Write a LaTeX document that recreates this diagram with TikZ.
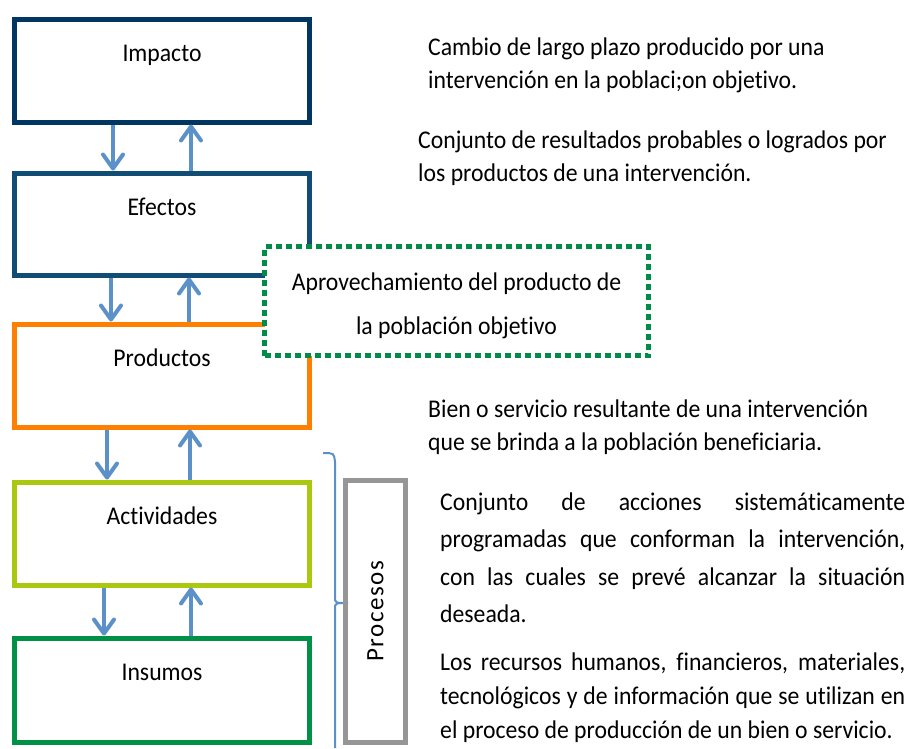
\documentclass[tikz,border=0pt]{standalone}
\usepackage{fontspec}
\setmainfont{Carlito}[FakeStretch=0.93, RawFeature={-liga;-clig}]
\newfontfamily\procfont{Carlito}[LetterSpace=6, RawFeature={-liga;-clig}]
\usetikzlibrary{arrows.meta}

\definecolor{azulImpacto}{RGB}{0,54,96}
\definecolor{azulEfectos}{RGB}{16,76,116}
\definecolor{naranja}{RGB}{255,128,0}
\definecolor{lima}{RGB}{170,200,15}
\definecolor{verde}{RGB}{0,144,70}
\definecolor{verdePunto}{RGB}{0,140,72}
\definecolor{azulFlecha}{RGB}{91,145,200}
\definecolor{grisProc}{RGB}{150,150,150}

\tikzset{
	etapa/.style={draw=#1, line width=5pt, minimum width=295pt, inner sep=0pt,
		anchor=north, text height=42pt, text depth=61pt, font=\fontsize{25.5}{30}\selectfont},
	flecha/.style={azulFlecha, line width=3.5pt,
		-{Straight Barb[length=14pt,width=20pt,line width=4pt,round]}},
	nota/.style={anchor=base west, inner sep=0pt, text width=#1, align=left,
		font=\fontsize{25.5}{33}\selectfont,
		execute at begin node={\spaceskip=\fontdimen2\font\relax}},
	parrafo/.style={anchor=base west, inner sep=0pt, text width=465pt, align=justify},
}

\begin{document}
\begin{tikzpicture}[x=1pt, y=-1pt]
	\useasboundingbox (0,0) rectangle (910,748);

	% cadena de resultados
	\node[etapa=azulImpacto] (impacto) at (162,16.5) {Impacto};
	\node[etapa=azulEfectos, text depth=60pt] (efectos) at (162,170.5) {Efectos};
	\node[etapa=naranja] (productos) at (162,321.5) {Productos};
	\node[etapa=lima] (actividades) at (162,479.5) {Actividades};
	\node[etapa=verde, text depth=62pt] (insumos) at (162,635.5) {Insumos};

	\draw[flecha] ([xshift=-49pt]impacto.south) -- ([xshift=-49pt]efectos.north);
	\draw[flecha] ([xshift=29pt]efectos.north) -- ([xshift=29pt]impacto.south);
	\draw[flecha] ([xshift=-51pt]efectos.south) -- ([xshift=-51pt]productos.north);
	\draw[flecha] ([xshift=27pt]productos.north) -- ([xshift=27pt]efectos.south);
	\draw[flecha] ([xshift=-55pt]productos.south) -- ([xshift=-55pt]actividades.north);
	\draw[flecha] ([xshift=28pt]actividades.north) -- ([xshift=28pt]productos.south);
	\draw[flecha] ([xshift=-58pt]actividades.south) -- ([xshift=-58pt]insumos.north);
	\draw[flecha] ([xshift=29pt]insumos.north) -- ([xshift=29pt]actividades.south);

	\node[draw=verdePunto, fill=white, line width=5pt, dash pattern=on 6pt off 4pt,
		minimum width=384pt, minimum height=109pt, inner sep=0pt, align=center,
		font=\fontsize{25.5}{44}\selectfont] (aprovechamiento) at (456.5,301)
		{\rule{0pt}{27pt}Aprovechamiento del producto de\\la población objetivo};

	% llave y procesos
	\draw[azulFlecha, line width=2pt] (323,453) .. controls (334,453) .. (335,462) -- (335,597)
		.. controls (335,603) .. (348,603) .. controls (335,603) .. (335,609) -- (335,748);
	\node[draw=grisProc, line width=5pt, rotate=90, minimum width=262pt, minimum height=60pt,
		inner sep=0pt, font=\fontsize{25}{30}\procfont] (procesos) at (375.5,611.5) {Procesos};

	% definiciones
	\node[nota=420pt] (defImpacto) at (428,55)
		{Cambio de largo plazo producido por una\\intervención en la poblaci;on objetivo.};
	\node[nota=480pt] (defEfectos) at (418,148)
		{Conjunto de resultados probables o logrados por\\los productos de una intervención.};
	\node[nota=460pt] (defProductos) at (428,417)
		{Bien o servicio resultante de una intervención\\que se brinda a la población beneficiaria.};
	\node[parrafo, font=\fontsize{25.5}{37.5}\selectfont] (defActividades) at (440,510)
		{Conjunto de acciones sistemáticamente\linebreak programadas que conforman la intervención,\linebreak con las cuales se prevé alcanzar la situación\linebreak deseada.};
	\node[parrafo, font=\fontsize{25.5}{34}\selectfont] (defInsumos) at (440,670)
		{Los recursos humanos, financieros, materiales,\linebreak tecnológicos y de información que se utilizan en\linebreak el proceso de producción de un bien o servicio.};
\end{tikzpicture}
\end{document}
